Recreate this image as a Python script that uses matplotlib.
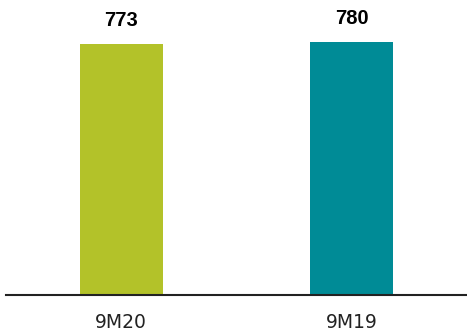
import matplotlib
matplotlib.use("Agg")
import matplotlib.pyplot as plt

categories = ["9M20", "9M19"]
values = [773, 780]
colors = ["#b3c229", "#008b96"]

fig = plt.figure(figsize=(4.67, 3.34), dpi=100)
ax = fig.add_axes([6/467, 1 - 295/334, 1 - 6/467, 295/334])
x = range(len(categories))
bars = ax.bar(x, values, width=0.36, color=colors)
for b, v in zip(bars, values):
    ax.annotate(str(v), (b.get_x() + b.get_width()/2, v), xytext=(0, 10),
                textcoords="offset points", ha="center", va="bottom",
                fontsize=14.5, fontweight="bold", family="Liberation Sans")
ax.set_xlim(-0.5, 1.5)
ax.set_ylim(0, 908)
ax.set_xticks(list(x))
ax.set_xticklabels(categories, fontsize=13.5, family="DejaVu Sans", color="#222222")
ax.tick_params(axis="x", length=0, pad=13)
ax.set_yticks([])
for s in ["top", "right", "left"]:
    ax.spines[s].set_visible(False)
ax.spines["bottom"].set_linewidth(1.5)
ax.spines["bottom"].set_color("#222222")
fig.savefig("out.png", dpi=100)
